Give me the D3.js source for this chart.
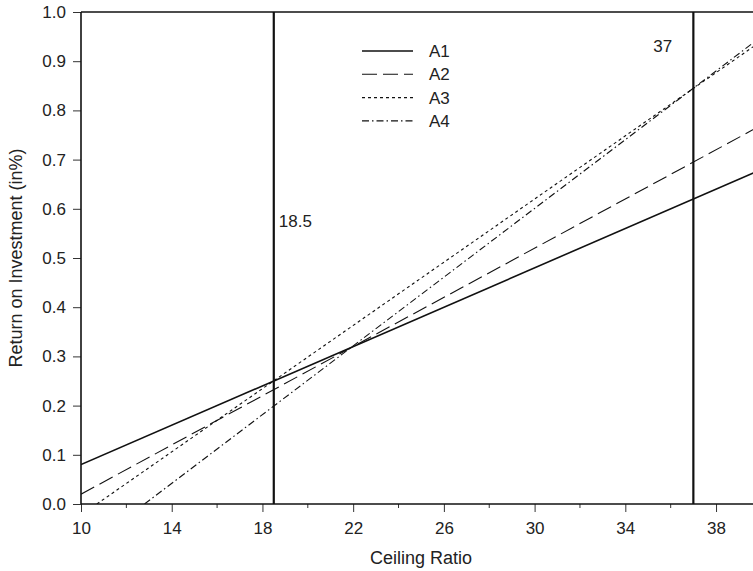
<!DOCTYPE html>
<html>
    <head>
        <style>
        html, body { margin: 0; padding: 0; background: #fff; }
        svg { display: block; }
        text { font-family: "Liberation Sans", Arial, sans-serif; fill: #222; }
        </style>
    </head>
    <body>
        <svg width="753" height="571"></svg>
        <script src="https://cdnjs.cloudflare.com/ajax/libs/d3/7.8.5/d3.min.js"></script>
        <script>
            // series: two end points each (x = ceiling ratio, y = return)
            const seriesNames = ["A1", "A2", "A3", "A4"];
            const seriesX = [[10, 40], [10, 40], [10.7, 40], [12.8, 40]];
            const seriesY = [[0.08, 0.68], [0.02, 0.77], [0.0, 0.941], [0.0, 0.95]];
            const markers = [18.5, 37];
            const xMajor = [10, 14, 18, 22, 26, 30, 34, 38];
            const xMinor = [12, 16, 20, 24, 28, 32, 36];
            const yTicks = [0, 0.1, 0.2, 0.3, 0.4, 0.5, 0.6, 0.7, 0.8, 0.9, 1.0];

            const dashes = [null, "15,6", "3,3", "7,3,1.5,3"];
            const widths = [1.6, 1.1, 1.1, 1.1];
            const fs = 17;

            const width = 753, height = 571;
            const margin = {top: 12, left: 81, bottom: 67};

            const svg = d3.select("svg");

            let xScale = d3.scaleLinear()
                .domain([10, 40])
                .range([margin.left, margin.left + 30 * 22.68]);
            let yScale = d3.scaleLinear()
                .domain([0, 1])
                .range([height - margin.bottom, margin.top]);

            svg.append("clipPath").attr("id", "clip")
                .append("rect")
                .attr("x", margin.left).attr("y", margin.top)
                .attr("width", width - margin.left)
                .attr("height", height - margin.bottom - margin.top);

            // frame top line
            svg.append("line")
                .attr("x1", margin.left).attr("x2", width)
                .attr("y1", yScale(1)).attr("y2", yScale(1))
                .attr("stroke", "#111").attr("stroke-width", 1.6);

            // series lines
            let line = d3.line().x(d => xScale(d[0])).y(d => yScale(d[1]));
            let plot = svg.append("g").attr("clip-path", "url(#clip)");
            seriesNames.forEach((name, i) => {
                let pts = seriesX[i].map((x, j) => [x, seriesY[i][j]]);
                plot.append("path")
                    .attr("d", line(pts))
                    .attr("fill", "none")
                    .attr("stroke", "#111")
                    .attr("stroke-width", widths[i])
                    .attr("stroke-dasharray", dashes[i]);
            });

            // vertical markers
            markers.forEach(m => {
                svg.append("line")
                    .attr("x1", xScale(m)).attr("x2", xScale(m))
                    .attr("y1", yScale(1)).attr("y2", yScale(0))
                    .attr("stroke", "#111").attr("stroke-width", 2.2);
            });
            svg.append("text").attr("x", xScale(18.5) + 5).attr("y", yScale(0.563))
                .attr("font-size", fs).text("18.5");
            svg.append("text").attr("x", xScale(37) - 40).attr("y", yScale(0.919))
                .attr("font-size", fs).text("37");

            // axes
            let xAxis = d3.axisBottom(xScale).tickValues(xMajor).tickSize(8).tickSizeOuter(0).tickPadding(10);
            let gx = svg.append("g")
                .attr("transform", "translate(" + [0, yScale(0)] + ")")
                .call(xAxis);
            gx.select(".domain").remove();
            gx.selectAll("text").attr("font-size", fs).attr("font-family", "Liberation Sans, Arial, sans-serif").attr("fill", "#222");
            gx.selectAll("line").attr("stroke", "#333");
            gx.selectAll(".minor").data(xMinor).enter().append("line")
                .attr("x1", d => xScale(d)).attr("x2", d => xScale(d))
                .attr("y1", 0).attr("y2", 4).attr("stroke", "#333");
            svg.append("line")
                .attr("x1", margin.left).attr("x2", width)
                .attr("y1", yScale(0)).attr("y2", yScale(0))
                .attr("stroke", "#111").attr("stroke-width", 1.6);

            let yAxis = d3.axisLeft(yScale).tickValues(yTicks).tickFormat(d3.format(".1f"))
                .tickSize(8).tickSizeOuter(0).tickPadding(7);
            let gy = svg.append("g")
                .attr("transform", "translate(" + [margin.left, 0] + ")")
                .call(yAxis);
            gy.select(".domain").remove();
            gy.selectAll("text").attr("font-size", fs).attr("font-family", "Liberation Sans, Arial, sans-serif").attr("fill", "#222");
            gy.selectAll("line").attr("stroke", "#333");
            svg.append("line")
                .attr("x1", margin.left).attr("x2", margin.left)
                .attr("y1", yScale(1)).attr("y2", yScale(0))
                .attr("stroke", "#111").attr("stroke-width", 1.6);

            // axis titles
            svg.append("text")
                .attr("x", 421).attr("y", 564)
                .attr("text-anchor", "middle").attr("font-size", fs + 1)
                .text("Ceiling Ratio");
            svg.append("text")
                .attr("transform", "translate(22," + yScale(0.5) + ") rotate(-90)")
                .attr("text-anchor", "middle").attr("font-size", fs + 1)
                .text("Return on Investment (in%)");

            // legend
            let legend = svg.append("g");
            seriesNames.forEach((name, i) => {
                let ly = 51 + i * 23.3;
                legend.append("line")
                    .attr("x1", 362).attr("x2", 413)
                    .attr("y1", ly).attr("y2", ly)
                    .attr("stroke", "#111")
                    .attr("stroke-width", widths[i])
                    .attr("stroke-dasharray", dashes[i]);
                legend.append("text")
                    .attr("x", 429).attr("y", ly + 6)
                    .attr("font-size", fs)
                    .text(name);
            });
        </script>
    </body>
</html>
